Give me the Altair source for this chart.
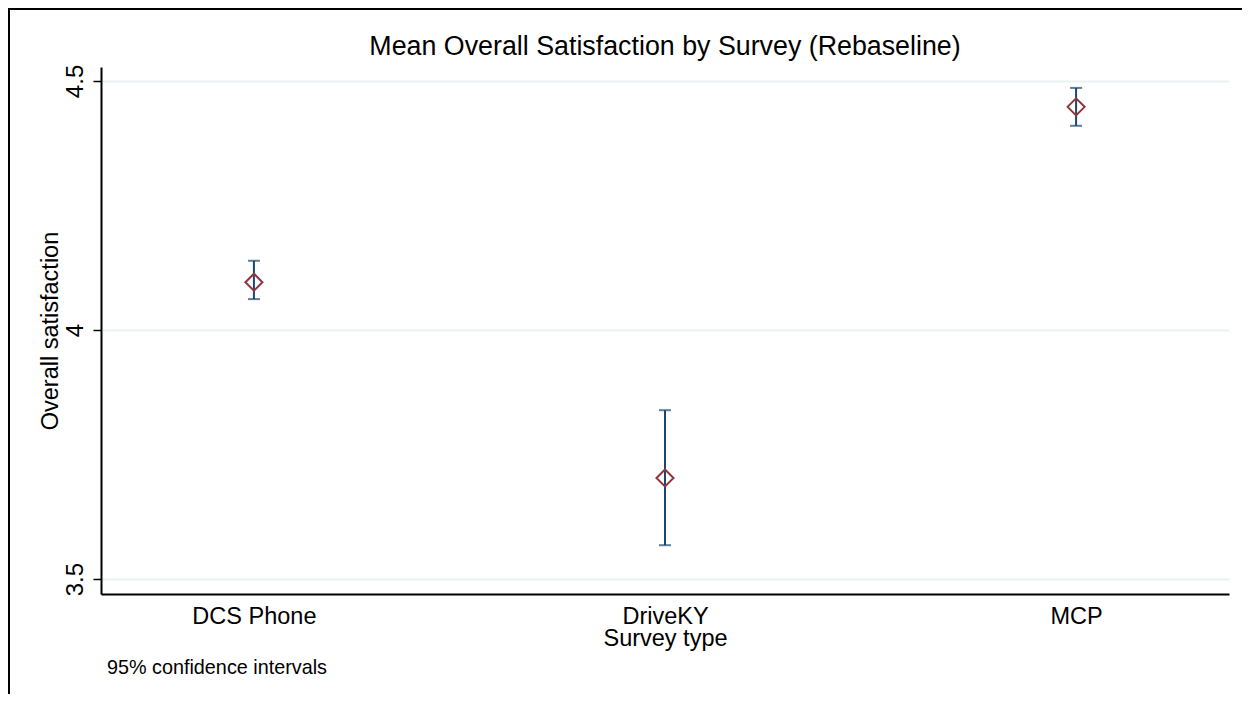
import altair as alt
import pandas as pd

surveys = ["DCS Phone", "DriveKY", "MCP"]
means = [4.096, 3.703, 4.448]
lower = [4.062, 3.568, 4.410]
upper = [4.139, 3.839, 4.486]

y_ticks = [3.5, 4.0, 4.5]
title_text = "Mean Overall Satisfaction by Survey (Rebaseline)"
note_text = "95% confidence intervals"

df = pd.DataFrame({"survey": surveys, "mean": means, "lower": lower, "upper": upper})

FONT = "Liberation Sans"
BLUE = "#1a476f"
MAROON = "#90353b"
GRID = "#eaf2f3"

W, H = 1128, 527

x_enc = alt.X(
    "survey:N",
    sort=surveys,
    scale=alt.Scale(type="point", padding=0.372),
    axis=alt.Axis(
        title="Survey type",
        labelAngle=0,
        labelFontSize=23.5,
        labelFont=FONT,
        labelColor="black",
        labelPadding=10,
        ticks=False,
        tickSize=0,
        domainColor="black",
        domainWidth=2,
        grid=False,
        titleFont=FONT,
        titleFontSize=23.5,
        titleFontWeight="normal",
        titleColor="black",
        titleBaseline="alphabetic",
        titleY=51,
    ),
)

y_scale = alt.Scale(domain=[3.47, 4.528], nice=False, zero=False)
y_axis = alt.Axis(
    title="Overall satisfaction",
    values=y_ticks,
    format="~g",
    labelAngle=270,
    labelAlign="center",
    labelBaseline="alphabetic",
    labelFontSize=24,
    labelFont=FONT,
    labelColor="black",
    labelPadding=11,
    tickSize=8,
    tickColor="black",
    tickWidth=1.5,
    domainColor="black",
    domainWidth=2,
    grid=True,
    gridColor=GRID,
    gridWidth=2,
    titleFont=FONT,
    titleFontSize=23.5,
    titleFontWeight="normal",
    titleColor="black",
    titleAngle=270,
    titleAlign="center",
    titleBaseline="alphabetic",
    titleX=-44,
    titleY=H / 2,
)

base = alt.Chart(df).encode(x=x_enc)

bars = base.mark_rule(color=BLUE, strokeWidth=2).encode(
    y=alt.Y("lower:Q", scale=y_scale, axis=y_axis), y2="upper:Q"
)
cap_lo = base.mark_tick(color=BLUE, size=12, thickness=2, orient="horizontal").encode(
    y=alt.Y("lower:Q", scale=y_scale)
)
cap_hi = base.mark_tick(color=BLUE, size=12, thickness=2, orient="horizontal").encode(
    y=alt.Y("upper:Q", scale=y_scale)
)
pts = base.mark_point(
    shape="diamond", filled=False, size=290, stroke=MAROON, strokeWidth=2, opacity=1
).encode(y=alt.Y("mean:Q", scale=y_scale))

one = pd.DataFrame({"t": [title_text], "n": [note_text]})
title_mark = alt.Chart(one).mark_text(
    font=FONT, fontSize=26.8, color="black", align="center", baseline="alphabetic"
).encode(text="t:N", x=alt.value(W / 2), y=alt.value(-12))
note_mark = alt.Chart(one).mark_text(
    font=FONT, fontSize=19.8, color="black", align="left", baseline="alphabetic"
).encode(text="n:N", x=alt.value(6), y=alt.value(607))

frame_left = alt.Chart(one).mark_rule(color="black", strokeWidth=2).encode(
    x=alt.value(-92), y=alt.value(-58), y2=alt.value(H + 130)
)
frame_top = alt.Chart(one).mark_rule(color="black", strokeWidth=2).encode(
    y=alt.value(-58), x=alt.value(-93), x2=alt.value(W + 13)
)

chart = (
    alt.layer(bars, cap_lo, cap_hi, pts, title_mark, note_mark, frame_left, frame_top)
    .properties(
        width=W,
        height=H,
        padding={"left": 93, "top": 59, "right": 13, "bottom": 100},
        autosize=alt.AutoSizeParams(type="none"),
        background="white",
    )
    .configure_view(stroke=None)
)

chart.save("out.html", embed_options={"renderer": "svg", "actions": False})
